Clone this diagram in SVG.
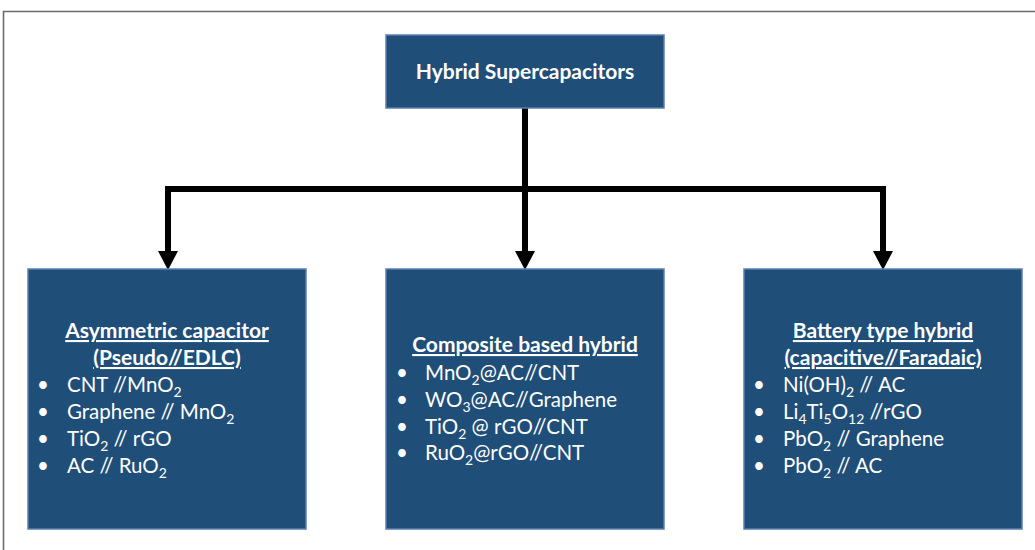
<svg xmlns="http://www.w3.org/2000/svg" width="1035" height="550" viewBox="0 0 1035 550">
<style>
.box{fill:#1F4E79;stroke:#5B7FAF;stroke-width:1.5}
.t{font-family:Lato,"Liberation Sans",sans-serif;fill:#fff;font-size:20.5px}
.b{font-weight:bold;font-size:21px}
.u{text-decoration:underline}
.c{text-anchor:middle}
.s{font-size:14px}
.conn{fill:none;stroke:#000;stroke-width:6}
</style>
<rect x="0" y="0" width="1035" height="550" fill="#fff"/>
<path d="M3.5,560 V11.5 H1040" fill="none" stroke="#6b6b6b" stroke-width="1.6"/>
<g id="connectors">
<path class="conn" d="M525,108 V189"/>
<path class="conn" d="M168,254 V189 H883 V254"/>
<path class="conn" d="M525,189 V254"/>
<polygon points="158,251 178,251 168,270" fill="#000"/>
<polygon points="515,251 535,251 525,270" fill="#000"/>
<polygon points="873,251 893,251 883,270" fill="#000"/>
</g>
<g id="root">
<rect class="box" x="386" y="35" width="278" height="73"/>
<text class="t b c" x="525" y="79" font-size="21.5">Hybrid Supercapacitors</text>
</g>
<g id="asymmetric">
<rect class="box" x="28" y="269" width="278" height="260"/>
<text class="t b u c" x="167" y="338">Asymmetric capacitor</text>
<text class="t b u c" x="167" y="365">(Pseudo//EDLC)</text>
<text class="t" x="37" y="392">•</text><text class="t" x="67" y="392">CNT //MnO<tspan class="s" dy="5">2</tspan></text>
<text class="t" x="37" y="419">•</text><text class="t" x="67" y="419">Graphene // MnO<tspan class="s" dy="5">2</tspan></text>
<text class="t" x="37" y="446">•</text><text class="t" x="67" y="446">TiO<tspan class="s" dy="5">2</tspan><tspan dy="-5"> // rGO</tspan></text>
<text class="t" x="37" y="473">•</text><text class="t" x="67" y="473">AC // RuO<tspan class="s" dy="5">2</tspan></text>
</g>
<g id="composite">
<rect class="box" x="386" y="269" width="278" height="260"/>
<text class="t b u c" x="525" y="352">Composite based hybrid</text>
<text class="t" x="396" y="380">•</text><text class="t" x="425" y="380">MnO<tspan class="s" dy="5">2</tspan><tspan dy="-5">@AC//CNT</tspan></text>
<text class="t" x="396" y="407">•</text><text class="t" x="425" y="407">WO<tspan class="s" dy="5">3</tspan><tspan dy="-5">@AC//Graphene</tspan></text>
<text class="t" x="396" y="434">•</text><text class="t" x="425" y="434">TiO<tspan class="s" dy="5">2</tspan><tspan dy="-5"> @ rGO//CNT</tspan></text>
<text class="t" x="396" y="460">•</text><text class="t" x="425" y="460">RuO<tspan class="s" dy="5">2</tspan><tspan dy="-5">@rGO//CNT</tspan></text>
</g>
<g id="battery">
<rect class="box" x="744" y="269" width="278" height="260"/>
<text class="t b u c" x="883" y="338">Battery type hybrid</text>
<text class="t b u c" x="883" y="365">(capacitive//Faradaic)</text>
<text class="t" x="753" y="392">•</text><text class="t" x="783" y="392">Ni(OH)<tspan class="s" dy="5">2</tspan><tspan dy="-5"> // AC</tspan></text>
<text class="t" x="753" y="419">•</text><text class="t" x="783" y="419">Li<tspan class="s" dy="5">4</tspan><tspan dy="-5">Ti</tspan><tspan class="s" dy="5">5</tspan><tspan dy="-5">O</tspan><tspan class="s" dy="5">12</tspan><tspan dy="-5"> //rGO</tspan></text>
<text class="t" x="753" y="446">•</text><text class="t" x="783" y="446">PbO<tspan class="s" dy="5">2</tspan><tspan dy="-5"> // Graphene</tspan></text>
<text class="t" x="753" y="473">•</text><text class="t" x="783" y="473">PbO<tspan class="s" dy="5">2</tspan><tspan dy="-5"> // AC</tspan></text>
</g>
</svg>
